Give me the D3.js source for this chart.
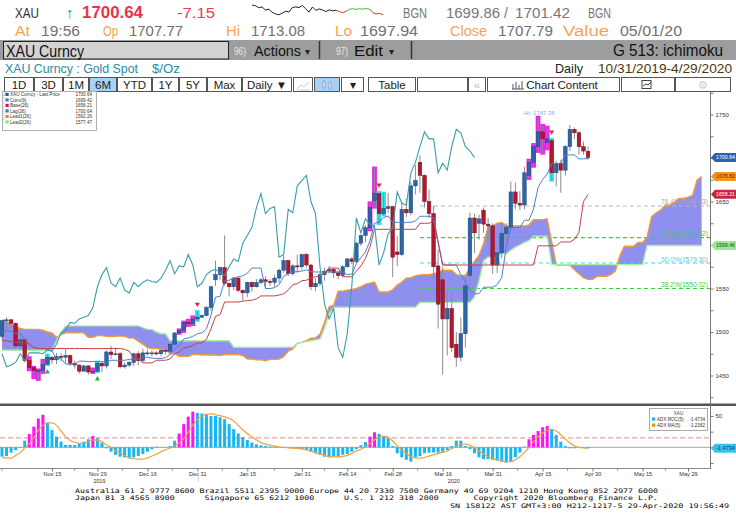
<!DOCTYPE html>
<html>
<head>
<meta charset="utf-8">
<script src="https://cdn.jsdelivr.net/npm/d3@7"></script>
<style>
  body { margin: 0; background: #fff; }
  svg { display: block; font-family: "Liberation Sans", Arial, sans-serif; }
  .xaxis text { font-size: 5.6px; fill: #333; }
  .xaxis line, .raxis line { stroke: #777; }
  .raxis text { font-size: 6px; fill: #333; }
</style>
</head>
<body>
<div id="chart"></div>
<script>

// ---------------- data ----------------
// daily candles, one row per trading day from 10/31/2019 : [open, high, low, close]
var ohlc = [
  [1495,1514,1491,1513],[1513,1517,1503,1514],[1514,1515,1505,1510],[1510,1511,1480,1484],[1484,1494,1480,1491],[1491,1494,1465,1467],[1467,1471,1456,1459],[1459,1460,1447,1456],[1456,1457,1445,1456],[1456,1468,1453,1463],
  [1463,1474,1462,1471],[1471,1472,1463,1468],[1468,1476,1463,1472],[1472,1476,1466,1471],[1471,1481,1464,1473],[1473,1474,1461,1464],[1464,1467,1458,1462],[1462,1463,1452,1455],[1455,1462,1454,1461],[1461,1462,1451,1454],
  [1454,1458,1453,1455],[1455,1466,1454,1464],[1464,1466,1454,1461],[1461,1479,1458,1477],[1477,1484,1469,1474],[1474,1482,1473,1475],[1475,1477,1458,1460],[1460,1465,1458,1462],[1462,1467,1460,1465],[1465,1476,1461,1475],
  [1475,1478,1462,1467],[1467,1481,1465,1476],[1476,1480,1473,1476],[1476,1479,1472,1476],[1476,1478,1473,1475],[1475,1481,1472,1479],[1479,1481,1474,1478],[1478,1487,1477,1486],[1486,1499,1485,1499],[1499,1503,1498,1502],
  [1502,1512,1500,1511],[1511,1514,1507,1510],[1510,1518,1508,1515],[1515,1524,1513,1517],[1517,1520,1516,1519],[1519,1530,1518,1528],[1528,1553,1524,1552],[1560,1582,1553,1566],[1566,1575,1560,1574],[1574,1611,1553,1556],
  [1556,1557,1541,1552],[1552,1563,1548,1562],[1562,1563,1546,1548],[1548,1549,1536,1545],[1545,1558,1540,1557],[1557,1558,1546,1552],[1552,1561,1551,1557],[1557,1562,1555,1560],[1560,1564,1550,1558],[1558,1561,1553,1557],
  [1557,1566,1552,1562],[1562,1573,1556,1571],[1571,1588,1568,1582],[1582,1583,1564,1567],[1567,1578,1565,1576],[1576,1589,1568,1575],[1575,1590,1572,1589],[1589,1591,1574,1577],[1577,1578,1548,1552],[1552,1562,1547,1556],
  [1556,1568,1553,1566],[1566,1574,1559,1570],[1570,1576,1567,1572],[1572,1574,1562,1568],[1568,1570,1561,1565],[1565,1577,1564,1575],[1575,1585,1574,1584],[1584,1586,1578,1581],[1581,1604,1579,1602],[1602,1612,1599,1611],
  [1611,1623,1603,1620],[1620,1649,1617,1643],[1651,1689,1643,1659],[1659,1661,1624,1636],[1636,1660,1634,1642],[1642,1660,1637,1644],[1644,1645,1563,1586],[1592,1610,1576,1589],[1589,1649,1587,1641],[1641,1653,1632,1637],
  [1637,1673,1634,1668],[1668,1692,1658,1674],[1695,1703,1660,1680],[1680,1681,1643,1650],[1650,1664,1631,1636],[1636,1645,1560,1575],[1576,1595,1504,1532],[1560,1575,1451,1515],[1515,1547,1473,1527],[1527,1547,1477,1482],
  [1486,1500,1460,1471],[1471,1517,1466,1498],[1498,1563,1482,1553],[1565,1637,1553,1631],[1631,1636,1591,1614],[1625,1635,1606,1630],[1640,1643,1614,1624],[1624,1631,1603,1622],[1622,1625,1567,1577],[1577,1592,1568,1591],
  [1591,1625,1585,1613],[1613,1625,1604,1620],[1620,1673,1616,1661],[1661,1672,1641,1648],[1648,1662,1640,1646],[1646,1690,1641,1683],[1680,1698,1676,1695],[1695,1716,1690,1713],[1713,1747.36,1707,1730],[1730,1738,1705,1722],
  [1718,1736,1710,1722],[1720,1722,1674,1683],[1683,1697,1667,1694],[1694,1698,1660,1686],[1686,1715,1680,1713],[1713,1738,1708,1733],[1733,1735,1722,1729],[1729,1731,1704,1713],[1713,1719,1704,1708],[1707.77,1713.08,1697.94,1700.64]
];

// Conv(9) and Base(26), one value per trading day
var conv = [
  1500,1501,1501,1498,1498,1491,1486.5,1482,1481,1481,
  1480,1478,1469.5,1469.5,1463,1463,1463,1466.5,1466.5,1466,
  1466,1466,1466,1465,1467.5,1467.5,1467.5,1467.5,1468.5,1469,
  1469,1471,1471,1470,1469.5,1469.5,1470.5,1474,1480.5,1484,
  1492,1493,1495,1498,1499,1503.5,1519,1540,1541,1559,
  1559.5,1562,1563.5,1564.5,1567.5,1573.5,1573.5,1573.5,1550,1550,
  1551,1554.5,1564,1567,1569,1569.5,1570,1571.5,1569.5,1569,
  1569,1569,1569,1569,1569,1569,1566,1566.5,1578.5,1585.5,
  1592,1605,1625,1626.5,1631.5,1633.5,1626,1626,1626,1626,
  1626,1627.5,1633,1633,1633,1631.5,1603.5,1577,1577,1577,
  1577,1566,1557.5,1548,1544,1544,1551.5,1551.5,1551.5,1554.5,
  1562.5,1598,1620,1620,1620,1628.5,1628.5,1641.5,1666,1675.5,
  1681.5,1693.5,1693.5,1694,1703.5,1703.5,1703.5,1699,1699,1699.42
];
var base = [
  1490,1490,1489,1488,1488,1488,1486,1482,1481,1481,
  1481,1481,1481,1481,1481,1481,1481,1481,1481,1481,
  1481,1481,1481,1481,1481,1481,1481,1480,1478,1469.5,
  1469.5,1464.5,1464.5,1464.5,1467.5,1467.5,1467.5,1469,1475,1477,
  1481.5,1482.5,1484.5,1487.5,1487.5,1491.5,1503.5,1518,1520,1534.5,
  1534.5,1534.5,1534.5,1535.5,1536,1536.5,1538,1541.5,1541.5,1541.5,
  1541.5,1542.5,1544,1548,1554.5,1555.5,1559,1559.5,1562,1563.5,
  1564.5,1567.5,1573.5,1573.5,1573.5,1563.5,1563.5,1563.5,1570,1576,
  1584.5,1598,1618,1618,1618,1618,1618,1618,1618,1618,
  1618,1618,1625,1625,1625,1628,1603.5,1577,1577,1577,
  1577,1577,1577,1577,1577,1577,1577,1577,1577,1577,
  1577,1577,1577,1577,1577,1577,1577,1577,1599,1599,
  1599,1599,1599,1603.5,1603.5,1603.5,1606.5,1614.5,1650,1658.21
];

// Lead1 / Lead2 are plotted 25 slots ahead, so they run to the end of the cloud
var lead1Early = [1514,1512,1509,1506,1504,1503,1503,1503,1503,1502,
                  1500,1499,1494,1497,1499,1499,1499,1499,1499,1494,
                  1494,1496,1496,1495,1495];
var lead1Late = [
  1495,1495.5,1495,1493,1493,1489.5,1486,1482,1481,1481,
  1480.5,1479.5,1475,1475,1472,1472,1472,1474,1474,1473.5,
  1473.5,1473.5,1473.5,1473,1474,1474,1474,1474,1473,1469,
  1469,1468,1468,1467,1468.5,1468.5,1469,1471.5,1478,1480.5,
  1487,1488,1490,1493,1493,1497.5,1511,1529,1530.5,1547,
  1547,1548,1549,1550,1552,1555,1556,1557.5,1546,1546,
  1546,1548.5,1554,1557.5,1562,1562.5,1564.5,1565.5,1566,1566,
  1567,1568,1571,1571,1571,1566,1565,1565,1574,1581,
  1588,1601.5,1621.5,1622,1625,1626,1622,1622,1622,1622,
  1622,1623,1629,1629,1629,1630,1603.5,1577,1577,1577,
  1577,1571.5,1567,1562.5,1560.5,1560.5,1564,1564,1564,1566,
  1570,1587.5,1598.5,1598.5,1598.5,1603,1603,1609,1632.5,1637,
  1640,1646,1646,1649,1653.5,1653.5,1655,1657,1674.5,1678.82
];
var lead2 = [
  1479,1479,1479,1479,1479,1479,1479,1479,1479,1479,
  1479,1479,1490,1500,1507,1507,1507,1507,1507,1507,
  1507,1507,1507,1507,1507,1507,1507,1507,1507,1507,
  1507,1505,1503,1503,1500,1498,1498,1490,1490,1490,
  1490,1490,1490,1490,1490,1490,1490,1490,1490,1490,
  1490,1482.5,1482.5,1482.5,1482.5,1482.5,1482.5,1482.5,1482.5,1482.5,
  1482.5,1482.5,1482.5,1482.5,1482.5,1487,1488,1489,1490,1491,
  1492,1505,1521,1528.5,1528.5,1528.5,1528.5,1528.5,1528.5,1528.5,
  1528.5,1528.5,1528.5,1528.5,1528.5,1528.5,1528.5,1528.5,1528.5,1528.5,
  1528.5,1528.5,1534,1534,1534,1534,1534,1534,1534,1534,
  1534,1534,1534,1534,1540,1559,1582,1586,1586,1588,
  1590,1590,1594,1597.5,1600,1603,1605,1610,1610,1610,
  1610,1577.5,1577.5,1577.5,1577.5,1577.5,1577.5,1577.5,1577.5,1577.5,
  1577.5,1577.5,1577.5,1577.5,1577.5,1577.5,1577.5,1577.5,1577.5,1577.5,
  1577.5,1577.5,1599.46,1599.46,1599.46,1599.46,1599.46,1599.46,1599.46,1599.46,
  1599.46,1599.46,1599.46,1599.46,1599.46
];
var lagShift = 25;

// TD style marks
var hotDays = [6,7,8,9,20,39,40,41,42,81,82,116,117,118,119,120];
var coolDays = [10,21,43,83,84,121];
var sellDays = [43,83,121];
var buyDays = [10,21];

// retracement levels
var fibPct = ["76.4%", "61.8%", "50.0%", "38.2%"];
var fibVal = [1644.83, 1608.52, 1579.30, 1550.02];
var fibFrom = 92;

// lower panel: ADX ROC(5) bars and ADX MA(5)
var adxRoc = [
  -15,-14,-8.5,-4.3,-1,10.6,21.3,33,46,52,
  39,27.7,17,9,3.7,3.7,3.7,6.4,9,12.8,
  18,14.4,7.5,-1.6,-7,-12,-15,-16,-17.6,-16,
  -14,-10.6,-7,-3.2,1,-0.5,-0.5,2,10.6,22,
  37,49,57,55,54,52,50,50,48,45,
  37,29,22,16,11.7,7.5,4.8,3.2,2,1,
  0.5,-0.5,-0.5,-1,-1.6,-2,-3,-4.3,-7,-9.6,
  -12,-15,-16,-15,-14,-12,-10.6,-7,-3,3.2,
  8.5,17,24,21.3,17,14.4,2,-9.6,-16,-20,
  -23,-16,-14,-9.6,-8.5,-8.5,-8.5,-7,-4.3,2,
  10.6,10.6,2,-3,-9.6,-16,-19,-19,-20,-21,
  -23,-24.5,-23,-16,-8.5,1,12.8,19.7,26,32,
  34,27.7,19.7,9,2,-1.6,-1.6,-0.5,-1,-1.4734
];
var adxMa = [
  -16,-17,-17.5,-13,-8.5,-1,6,15,27,35,
  39,39,35,26,17,11,8,6.5,6.4,9,
  11.7,11.5,9,4,0,-5,-9,-13,-16.5,-18,
  -19,-19,-17,-14,-11,-7,-4,-1,2.5,7,
  14,24,35,44,50,53,53.5,52,50.5,48.5,
  46,42,35,28,22,17,12,7.5,5,3.5,
  2,0.5,-0.3,-0.8,-1.2,-1.6,-2.5,-4,-6,-8.5,
  -11,-13,-15,-15.5,-15,-14.5,-13,-10,-6,-3,
  1,6,12,16,18,16,10,2,-4,-10,
  -15,-17,-17.5,-16,-14,-12,-10,-8,-6,-2,
  2,4,5,3,-1,-5,-11,-15,-18,-20,
  -21.5,-23,-23,-20,-15,-8,0,9,17,23,
  27,28.5,26,20,13,7,2.5,0,-0.8,-1.2382
];
var adxLevel = 15;

// date axis
var tickDates = ["2019-11-15","2019-11-29","2019-12-16","2019-12-31","2020-01-15","2020-01-31","2020-02-14",
                 "2020-02-28","2020-03-16","2020-03-31","2020-04-15","2020-04-30","2020-05-15","2020-05-29"];

// intraday sparkline in the header
var spark = [1713.1,1712.4,1710.2,1711.0,1707.6,1708.5,1705.0,1703.2,1702.2,1704.1,1706.2,1705.3,1710.3,1711.1,
             1710.3,1712.6,1708.9,1705.2,1711.0,1707.2,1708.8,1707.6,1705.9,1707.8,1706.6,1707.4,1705.8,1704.6,
             1706.1,1708.4,1709.0,1708.2,1709.1,1708.5,1709.3,1708.6,1704.6,1703.2,1703.8,1702.4];

// legend rows
var legNames = ["XAU Curncy - Last Price", "Conv(9)", "Base(26)", "Lag(26)", "Lead1(26)", "Lead2(26)"];
var legValues = ["1700.64", "1699.42", "1658.21", "1700.64", "1562.26", "1577.47"];
var legColors = ["#2a5ea8", "#3f7cc4", "#c0203c", "#23909c", "#f08a1a", "#90e690"];

// ---------------- page ----------------
var svg = d3.select("#chart").append("svg")
    .attr("width", 736)
    .attr("height", 530);

svg.append("rect").attr("width", 736).attr("height", 530).attr("fill", "#fff");

function put(g, s, x, y, size, color, len, extra) {
    var t = g.append("text")
        .attr("x", x).attr("y", y)
        .attr("font-size", size)
        .attr("fill", color)
        .text(s);
    if (len) t.attr("textLength", len).attr("lengthAdjust", "spacingAndGlyphs");
    if (extra) for (var k in extra) t.attr(k, extra[k]);
    return t;
}

// header line 1
var head = svg.append("g");
put(head, "XAU", 15, 17.5, 14, "#333", 24);
put(head, "\u2191", 66, 18, 15, "#2aa02a");
put(head, "1700.64", 82, 18.3, 16, "#e8334a", 61, {"font-weight": "bold"});
put(head, "-7.15", 177, 18, 15, "#e84050", 38);
put(head, "BGN", 403, 17.5, 14, "#777", 24);
put(head, "1699.86", 446, 17.5, 14, "#777", 54);
put(head, "/", 504, 17.5, 14, "#777");
put(head, "1701.42", 515, 17.5, 14, "#777", 55);
put(head, "BGN", 588, 17.5, 14, "#777", 23);

// sparkline
var sx = d3.scaleLinear().domain([0, spark.length - 1]).range([252, 383]);
var sy = d3.scaleLinear().domain([1702, 1713.2]).range([15, 5]);
var sparkLine = d3.line().x(function(d) { return sx(d); }).y(function(d) { return sy(spark[d]); });
var sparkParts = [[0, 25, "#222"], [25, 28, "#e03030"], [28, 35, "#30c030"], [35, 39, "#e03030"]];
sparkParts.forEach(function(p) {
    head.append("path")
        .attr("d", sparkLine(d3.range(p[0], p[1] + 1)))
        .attr("fill", "none").attr("stroke", p[2]).attr("stroke-width", 1);
});

// header line 2
var orange = "#f4a257", grey = "#707070";
put(head, "At", 15, 36, 14, orange, 15);
put(head, "19:56", 41, 36, 14, grey, 39);
put(head, "Op", 103, 36, 14, orange, 15);
put(head, "1707.77", 129, 36, 14, grey, 54);
put(head, "Hi", 226, 36, 14, orange, 14);
put(head, "1713.08", 251, 36, 14, grey, 54);
put(head, "Lo", 335, 36, 14, orange, 17);
put(head, "1697.94", 360, 36, 14, grey, 58);
put(head, "Close", 450, 36, 14, orange, 37);
put(head, "1707.79", 498, 36, 14, grey, 55);
put(head, "Value", 563, 36, 14, orange, 46);
put(head, "05/01/20", 620, 36, 14, grey, 62);

// title bar
head.append("rect").attr("x", 0).attr("y", 40).attr("width", 736).attr("height", 20).attr("fill", "#9d9d9d");
head.append("rect").attr("x", 3.5).attr("y", 41.5).attr("width", 225).attr("height", 17.5)
    .attr("fill", "#d3d3d3").attr("stroke", "#222");
put(head, "XAU Curncy", 6, 56.5, 16.5, "#111", 78);
put(head, "96)", 234, 55, 10.5, "#e6e6e6", 12);
put(head, "Actions", 254, 56, 15.5, "#111", 47);
put(head, "\u25BE", 305, 55, 10, "#222");
head.append("line").attr("x1", 319.5).attr("x2", 319.5).attr("y1", 41).attr("y2", 59).attr("stroke", "#333").attr("stroke-width", 1.5);
put(head, "97)", 336, 55, 10.5, "#e6e6e6", 12);
put(head, "Edit", 354, 56, 15.5, "#111", 29);
put(head, "\u25BE", 389, 55, 10, "#222");
head.append("line").attr("x1", 411.5).attr("x2", 411.5).attr("y1", 41).attr("y2", 59).attr("stroke", "#333").attr("stroke-width", 1.5);
put(head, "G 513: ichimoku", 613, 56, 16, "#111", 110);

// sub title
put(head, "XAU Curncy : Gold Spot", 5, 73, 13, "#2b8aa2", 133);
put(head, "$/Oz", 152, 73, 13, "#2b8aa2", 28);
put(head, "Daily", 555, 73, 13, "#222", 28);
put(head, "10/31/2019-4/29/2020", 598, 73, 13, "#4a3a10", 134);

// tool buttons
var btns = [["1D", 4, 34], ["3D", 34, 63], ["1M", 63, 89], ["6M", 89, 117], ["YTD", 117, 152], ["1Y", 152, 179],
            ["5Y", 179, 207], ["Max", 207, 242], ["Daily \u25BC", 242, 292], ["", 293, 313], ["", 314, 340], ["\u25BE", 341, 364],
            ["Table", 368, 416], ["", 417, 468], ["\u00AB", 468, 486], ["Chart Content", 487, 620], ["", 621, 675], ["", 675, 731]];
btns.forEach(function(b, i) {
    var on = (b[0] === "6M" || i === 10);
    head.append("rect").attr("x", b[1] + 0.5).attr("y", 77.5).attr("width", b[2] - b[1] - 1).attr("height", 14)
        .attr("fill", on ? "#a9d1f5" : "#fff").attr("stroke", "#555");
    if (b[0]) {
        var cx = b[0] === "Chart Content" ? 562 : (b[1] + b[2]) / 2;
        put(head, b[0], cx, 88.5, 11.5, b[0] === "\u00AB" ? "#bbb" : "#222", null, {"text-anchor": "middle"});
    }
});
// small icons inside the blank buttons
head.append("path").attr("d", "M297,89 L301,85 L304,87 L309,82").attr("fill", "none").attr("stroke", "#ccc");
head.append("path").attr("d", "M297,90 L310,90").attr("stroke", "#ccc");
head.append("path").attr("d", "M324,80 V89 M330,81 V90").attr("stroke", "#8aa0b8");
head.append("rect").attr("x", 322.5).attr("y", 82).attr("width", 3).attr("height", 5).attr("fill", "#c8d8e8").attr("stroke", "#8aa0b8").attr("stroke-width", 0.5);
head.append("rect").attr("x", 328.5).attr("y", 83).attr("width", 3).attr("height", 5).attr("fill", "#c8d8e8").attr("stroke", "#8aa0b8").attr("stroke-width", 0.5);
head.append("path").attr("d", "M512,89 h12 M513,89 v-5 M516,89 v-7 M519,89 v-4 M522,89 v-8").attr("stroke", "#555");
head.append("rect").attr("x", 642).attr("y", 80.5).attr("width", 9).attr("height", 8).attr("fill", "none").attr("stroke", "#444");
head.append("path").attr("d", "M643,86 l3,-2 l2,1 l3,-3").attr("fill", "none").attr("stroke", "#444");
put(head, "\u2699", 703, 89, 11, "#ccc", null, {"text-anchor": "middle"});

// ---------------- scales ----------------
var x = d3.scaleLinear().domain([0, 155]).range([2, 2 + 155 * 4.543]);
var y = d3.scaleLinear().domain([1450, 1750]).range([375.5, 114.5]);
var y2 = d3.scaleLinear().domain([0, 50]).range([447.3, 416]);

var days = d3.utcDay.range(new Date(Date.UTC(2019, 9, 31)), new Date(Date.UTC(2020, 5, 6)))
    .filter(function(d) { return d.getUTCDay() % 6 !== 0; });
var isoDay = d3.utcFormat("%Y-%m-%d"), tickFmt = d3.utcFormat("%b %d");
var dayIndex = {};
days.forEach(function(d, i) { dayIndex[isoDay(d)] = i; });

// ---------------- upper panel ----------------
svg.append("clipPath").attr("id", "clipMain")
    .append("rect").attr("x", 0).attr("y", 92).attr("width", 710).attr("height", 311);
var main = svg.append("g").attr("clip-path", "url(#clipMain)");

var lead1 = lead1Early.concat(lead1Late);

// cloud
var cloud = d3.area()
    .x(function(d, i) { return x(i); })
    .y0(function(d, i) { return y(lead2[i]); })
    .y1(function(d) { return y(d); });
main.append("path").datum(lead1).attr("d", cloud).attr("fill", "#8f8ff0");

// retracement lines
var fibColors = ["#b8b8b8", "#3ad03a", "#40d8f0", "#3ad03a"];
fibVal.forEach(function(v, i) {
    main.append("line")
        .attr("x1", x(fibFrom)).attr("x2", 710)
        .attr("y1", y(v)).attr("y2", y(v))
        .attr("stroke", fibColors[i]).attr("stroke-width", 1.2).attr("stroke-dasharray", "4,3");
    put(main, fibPct[i] + "(" + v.toFixed(2) + ")", 708, y(v) - 1.5, 6.6, fibColors[i] === "#b8b8b8" ? "#a8a8a8" : fibColors[i], null, {"text-anchor": "end"});
});

var seriesLine = d3.line()
    .x(function(d, i) { return x(i); })
    .y(function(d) { return y(d); });

main.append("path").datum(lead1).attr("d", seriesLine).attr("fill", "none").attr("stroke", "#f39a33").attr("stroke-width", 1.4);
main.append("path").datum(lead2).attr("d", seriesLine).attr("fill", "none").attr("stroke", "#a6eea6").attr("stroke-width", 1.4);

// TD highlight boxes behind the candles
function markBox(list, color) {
    main.selectAll(null)
        .data(list)
        .enter().append("rect")
        .attr("x", function(i) { return x(i) - 2.4; })
        .attr("width", 4.8)
        .attr("y", function(i) { return y(ohlc[i][1]) - 1; })
        .attr("height", function(i) { return y(ohlc[i][2]) - y(ohlc[i][1]) + 2; })
        .attr("fill", color);
}
markBox(hotDays, "#f21ef2");
markBox(coolDays, "#2ee6f2");

// candles
main.selectAll(".wick")
    .data(ohlc)
    .enter().append("line")
    .attr("class", "wick")
    .attr("x1", function(d, i) { return x(i); })
    .attr("x2", function(d, i) { return x(i); })
    .attr("y1", function(d) { return y(d[1]); })
    .attr("y2", function(d) { return y(d[2]); })
    .attr("stroke", "#8c8c8c").attr("stroke-width", 1);

main.selectAll(".body")
    .data(ohlc)
    .enter().append("rect")
    .attr("class", "body")
    .attr("x", function(d, i) { return x(i) - 1.8; })
    .attr("width", 3.6)
    .attr("y", function(d) { return y(Math.max(d[0], d[3])); })
    .attr("height", function(d) { return Math.max(1, Math.abs(y(d[0]) - y(d[3]))); })
    .attr("fill", function(d) { return d[3] >= d[0] ? "#2d66a8" : "#b3172e"; })
    .attr("stroke", function(d) { return d[3] >= d[0] ? "#1c4578" : "#780e1e"; })
    .attr("stroke-width", 0.5);

// signal triangles
main.selectAll(".sell")
    .data(sellDays)
    .enter().append("path")
    .attr("d", d3.symbol().type(d3.symbolTriangle).size(11))
    .attr("transform", function(i) { return "translate(" + x(i) + "," + (y(ohlc[i][1]) - 7) + ") rotate(180)"; })
    .attr("fill", "#e02828");
main.selectAll(".buy")
    .data(buyDays)
    .enter().append("path")
    .attr("d", d3.symbol().type(d3.symbolTriangle).size(11))
    .attr("transform", function(i) { return "translate(" + x(i) + "," + (y(ohlc[i][2]) + 7) + ")"; })
    .attr("fill", "#20b840");

// conv, base, lag
main.append("path").datum(conv).attr("d", seriesLine).attr("fill", "none").attr("stroke", "#4a82c6").attr("stroke-width", 1);
main.append("path").datum(base).attr("d", seriesLine).attr("fill", "none").attr("stroke", "#c8404a").attr("stroke-width", 1);
var lag = ohlc.slice(lagShift).map(function(d) { return d[3]; });
main.append("path").datum(lag).attr("d", seriesLine).attr("fill", "none").attr("stroke", "#3a9ea8").attr("stroke-width", 1.1);

// high label
put(main, "Hi: 1747.36", x(118) - 14, y(1747.36) - 1.5, 6, "#88b0d6");

// legend box
var leg = svg.append("g");
leg.append("rect").attr("x", 2.5).attr("y", 91.5).attr("width", 94).attr("height", 39)
    .attr("fill", "#fff").attr("stroke", "#b0b0b0");
leg.append("rect").attr("x", 2.5).attr("y", 92).attr("width", 3).attr("height", 3).attr("fill", "#fff").attr("stroke", "#999").attr("stroke-width", 0.5);
leg.append("line").attr("x1", 4).attr("x2", 4).attr("y1", 95).attr("y2", 123).attr("stroke", "#bbb").attr("stroke-dasharray", "1,1");
legNames.forEach(function(n, i) {
    var cy = 94.5 + i * 5.5;
    leg.append("rect").attr("x", 5.5).attr("y", cy - 1.7).attr("width", 3.2).attr("height", 3.2).attr("fill", legColors[i]);
    put(leg, n, 10, cy + 1.6, 4.6, "#333");
    put(leg, legValues[i], 92, cy + 1.6, 4.6, "#333", null, {"text-anchor": "end"});
});

// ---------------- lower panel ----------------
svg.append("rect").attr("x", 0).attr("y", 403.5).attr("width", 736).attr("height", 2.5).attr("fill", "#555");

svg.append("clipPath").attr("id", "clipLow")
    .append("rect").attr("x", 0).attr("y", 406).attr("width", 710).attr("height", 62);
var low = svg.append("g").attr("clip-path", "url(#clipLow)");

low.append("line").attr("x1", 0).attr("x2", 710).attr("y1", y2(0)).attr("y2", y2(0)).attr("stroke", "#a8a8a8");
low.append("line").attr("x1", 0).attr("x2", 710).attr("y1", y2(adxLevel)).attr("y2", y2(adxLevel))
    .attr("stroke", "#ff9d9d").attr("stroke-width", 1.3).attr("stroke-dasharray", "5,3");

low.selectAll(".bar")
    .data(adxRoc)
    .enter().append("rect")
    .attr("class", "bar")
    .attr("x", function(d, i) { return x(i) - 1.5; })
    .attr("width", 3)
    .attr("y", function(d) { return Math.min(y2(d), y2(0)); })
    .attr("height", function(d) { return Math.abs(y2(d) - y2(0)); })
    .attr("fill", function(d, i) { return hotDays.indexOf(i) >= 0 ? "#ff10ff" : "#16b6f2"; });

low.append("path").datum(adxMa)
    .attr("d", d3.line().x(function(d, i) { return x(i); }).y(function(d) { return y2(d); }).curve(d3.curveMonotoneX))
    .attr("fill", "none").attr("stroke", "#f3a03a").attr("stroke-width", 1.2);

// lower legend
var leg2 = svg.append("g");
leg2.append("rect").attr("x", 649.5).attr("y", 408.5).attr("width", 58).attr("height", 22)
    .attr("fill", "#fff").attr("stroke", "#aaa");
put(leg2, "XAU", 678.5, 415, 4.6, "#444", null, {"text-anchor": "middle"});
leg2.append("rect").attr("x", 652).attr("y", 417.5).attr("width", 3.2).attr("height", 3.2).attr("fill", "#16b6f2");
put(leg2, "ADX ROC(5)", 657, 420.6, 4.6, "#333");
put(leg2, "-1.4734", 705, 420.6, 4.6, "#333", null, {"text-anchor": "end"});
leg2.append("rect").attr("x", 652).attr("y", 423.5).attr("width", 3.2).attr("height", 3.2).attr("fill", "#f08a1a");
put(leg2, "ADX MA(5)", 657, 426.6, 4.6, "#333");
put(leg2, "-1.2382", 705, 426.6, 4.6, "#333", null, {"text-anchor": "end"});

// ---------------- axes ----------------
svg.append("line").attr("x1", 710.5).attr("x2", 710.5).attr("y1", 92).attr("y2", 469).attr("stroke", "#777");

var rAxis = d3.axisRight(y)
    .tickValues(d3.range(1425, 1776, 25))
    .tickSize(3).tickPadding(2)
    .tickFormat(function(v) { return (v % 50 === 0 && v !== 1700 && v !== 1600) ? v : ""; });
svg.append("g").attr("class", "raxis").attr("transform", "translate(710.5,0)").call(rAxis)
    .call(function(g) { g.select(".domain").remove(); });

var rAxis2 = d3.axisRight(y2)
    .tickValues([-25, 0, 25, 50])
    .tickSize(3).tickPadding(2)
    .tickFormat(function(v) { return v === 50 ? "50" : ""; });
svg.append("g").attr("class", "raxis").attr("transform", "translate(710.5,0)").call(rAxis2)
    .call(function(g) { g.select(".domain").remove(); });

// value tags on the right axis
var tagValues = [1700.64, 1678.82, 1658.21, 1599.46];
var tagFill = ["#2a62ae", "#f2941e", "#c8283c", "#98ea98"];
var tagText = ["#fff", "#7a1a00", "#fff", "#135013"];
function tag(yy, label, fill, ink) {
    svg.append("path")
        .attr("d", "M711," + yy + " L715," + (yy - 4.5) + " H736 V" + (yy + 4.5) + " H715 Z")
        .attr("fill", fill);
    put(svg, label, 716, yy + 2, 5.6, ink, 19);
}
tagValues.forEach(function(v, i) { tag(y(v), v.toFixed(2), tagFill[i], tagText[i]); });
tag(y2(-1.4734), "-1.4734", "#38c2f2", "#0a3a50");

// time axis
svg.append("line").attr("x1", 0).attr("x2", 710).attr("y1", 468.5).attr("y2", 468.5).attr("stroke", "#888");
var tickIdx = tickDates.map(function(s) { return dayIndex[s]; });
var xAxis = d3.axisBottom(x)
    .tickValues(tickIdx)
    .tickSize(3).tickPadding(0.6)
    .tickFormat(function(i) { return tickFmt(days[i]); });
svg.append("g").attr("class", "xaxis").attr("transform", "translate(0,468.5)").call(xAxis)
    .call(function(g) { g.select(".domain").remove(); });

// minor ticks halfway between labels
var minor = tickIdx.slice(1).map(function(v, i) { return (v + tickIdx[i]) / 2; }).concat([0]);
svg.selectAll(".minor").data(minor).enter().append("line")
    .attr("x1", function(i) { return x(i); }).attr("x2", function(i) { return x(i); })
    .attr("y1", 468.5).attr("y2", 471).attr("stroke", "#999");

put(svg, "2019", x(dayIndex["2019-11-29"]) + 2, 483, 5.4, "#333", null, {"text-anchor": "middle"});
put(svg, "2020", x(dayIndex["2020-03-16"]) + 11, 483, 5.4, "#333", null, {"text-anchor": "middle"});
svg.append("line").attr("x1", x(dayIndex["2019-12-31"]) + 1).attr("x2", x(dayIndex["2019-12-31"]) + 1)
    .attr("y1", 477).attr("y2", 482).attr("stroke", "#ccc");

// ---------------- footer ----------------
// three stacked lines, kept just far enough apart not to collide
var foot = svg.append("g").attr("font-family", "'DejaVu Sans Mono', monospace");
var cw = 4.983, fs = 6.3;
put(foot, "Australia 61 2 9777 8600 Brazil 5511 2395 9000 Europe 44 20 7330 7500 Germany 49 69 9204 1210 Hong Kong 852 2977 6000",
    75, 492.5, fs, "#000", 117 * cw);
put(foot, "Japan 81 3 4565 8900", 75, 500, fs, "#000", 20 * cw);
put(foot, "Singapore 65 6212 1000", 75 + 26 * cw, 500, fs, "#000", 22 * cw);
put(foot, "U.S. 1 212 318 2000", 75 + 54 * cw, 500, fs, "#000", 19 * cw);
put(foot, "Copyright 2020 Bloomberg Finance L.P.", 75 + 80 * cw, 500, fs, "#000", 37 * cw);
put(foot, "SN 158122 AST  GMT+3:00 H212-1217-5 29-Apr-2020 19:56:49", 450, 507.5, fs, "#000", 56 * cw);

</script>
</body>
</html>
